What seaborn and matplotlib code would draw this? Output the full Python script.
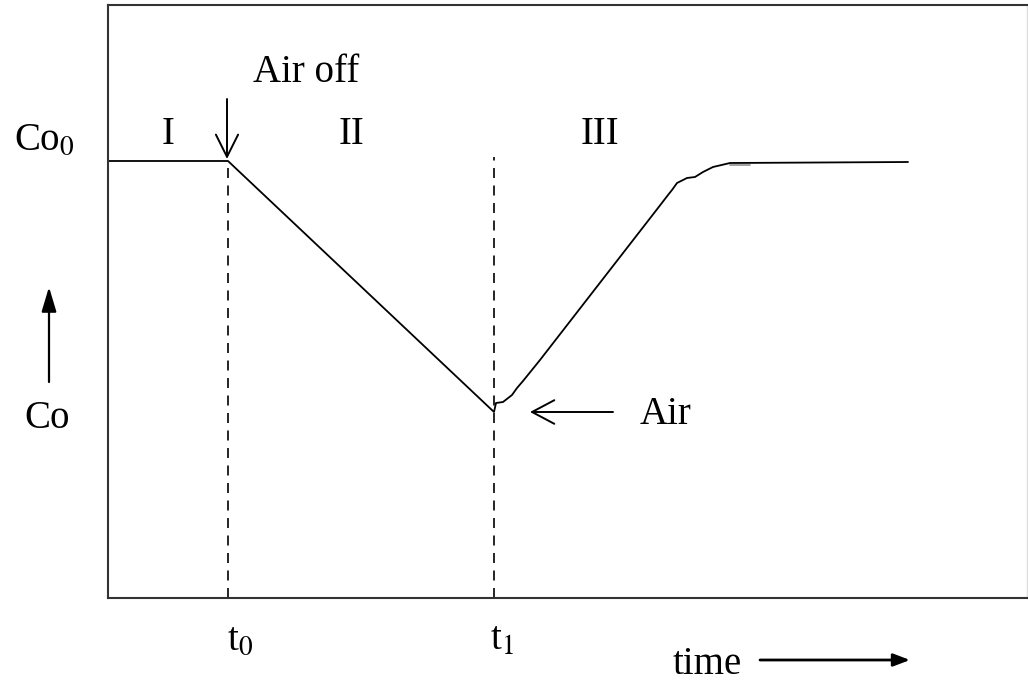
import numpy as np
import pandas as pd
import matplotlib
matplotlib.use("Agg")
import matplotlib.pyplot as plt
import seaborn as sns

# Concentration profile (arbitrary units)
time_pts = [0.00, 1.20, 3.86, 3.88, 3.95, 4.04, 4.09, 4.15, 4.32, 5.50,
            5.60, 5.64, 5.69, 5.79, 5.87, 5.95, 6.05, 6.22, 8.00]
conc_pts = [4.37, 4.37, 1.86, 1.95, 1.96, 2.03, 2.10, 2.17, 2.38, 3.90,
            4.03, 4.08, 4.15, 4.20, 4.21, 4.26, 4.31, 4.35, 4.36]

t0 = 1.20
t1 = 3.86
co0_level = 4.37
region_labels = ["I", "II", "III"]
region_x = [0.60, 2.44, 4.92]

sns.set_style("white")
plt.rcParams["font.family"] = ["Liberation Serif", "DejaVu Serif"]
plt.rcParams["mathtext.fontset"] = "stix"
plt.rcParams["text.color"] = "black"

fig = plt.figure(figsize=(10.28, 6.86), dpi=100)
ax = fig.add_axes([108 / 1028, 88 / 686, 919 / 1028, 593 / 686])

df = pd.DataFrame({"time": time_pts, "Co": conc_pts})
sns.lineplot(data=df, x="time", y="Co", sort=False, color="black",
             linewidth=1.3, ax=ax)

# short grey overlap where the hand-drawn curve meets the plateau
ax.plot([6.22, 6.42], [4.33, 4.33], color="#999999", linewidth=1.3)

# dashed time markers
ax.plot([t0, t0], [0, co0_level], color="black", linestyle=(0, (6, 4.5)), linewidth=1.2)
ax.plot([t1, t1], [0, 4.41], color="black", linestyle=(0, (6, 4.5)), linewidth=1.2)

ax.set_xlim(0, 9.19)
ax.set_ylim(0, 5.93)
ax.set_xticks([])
ax.set_yticks([])
ax.set_xlabel("")
ax.set_ylabel("")
for side in ["left", "top", "bottom"]:
    ax.spines[side].set_color("#333333")
    ax.spines[side].set_linewidth(1.5)
ax.spines["right"].set_color("#dddddd")
ax.spines["right"].set_linewidth(1.0)

fs = 28
for lab, xr in zip(region_labels, region_x):
    ax.text(xr, 4.63, lab, fontsize=fs, ha="center", va="center")

ax.text(1.98, 5.25, "Air off", fontsize=fs, ha="center", va="center")
ax.annotate("", xy=(t0 - 0.01, 4.39), xytext=(t0 - 0.01, 4.99),
            arrowprops=dict(arrowstyle="->,head_length=1.6,head_width=0.8",
                            color="black", lw=1.4, shrinkA=0, shrinkB=0))

ax.annotate("", xy=(4.22, 1.86), xytext=(5.05, 1.86),
            arrowprops=dict(arrowstyle="->,head_length=1.6,head_width=0.85",
                            color="black", lw=1.4, shrinkA=0, shrinkB=0))
ax.text(5.57, 1.84, "Air", fontsize=fs, ha="center", va="center")

# y-axis labels and arrow
ax.text(-0.64, 4.58, r"Co$_{\mathrm{0}}$", fontsize=fs, ha="center", va="center", clip_on=False)
ax.text(-0.61, 1.80, "Co", fontsize=fs, ha="center", va="center", clip_on=False)
ax.annotate("", xy=(-0.59, 3.11), xytext=(-0.59, 2.16), annotation_clip=False,
            arrowprops=dict(arrowstyle="-|>,head_length=1.5,head_width=0.45",
                            color="black", lw=1.6, shrinkA=0, shrinkB=0))

# x-axis labels and arrow
ax.text(t0 + 0.12, -0.42, r"t$_{\mathrm{0}}$", fontsize=fs, ha="center", va="center", clip_on=False)
ax.text(t1 + 0.08, -0.42, r"t$_{\mathrm{1}}$", fontsize=fs, ha="center", va="center", clip_on=False)
ax.text(5.99, -0.67, "time", fontsize=fs, ha="center", va="center", clip_on=False)
ax.annotate("", xy=(8.02, -0.62), xytext=(6.52, -0.62), annotation_clip=False,
            arrowprops=dict(arrowstyle="-|>,head_length=1.0,head_width=0.38",
                            color="black", lw=2.0, shrinkA=0, shrinkB=0))

fig.savefig("out.png", dpi=100)
